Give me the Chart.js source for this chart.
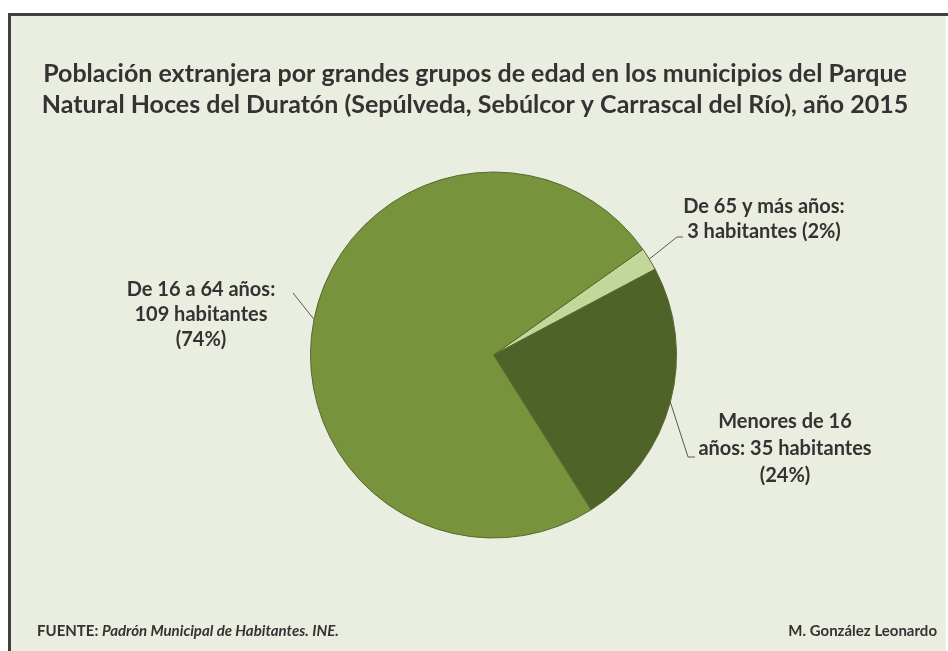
<!DOCTYPE html>
<html lang="es">
<head>
<meta charset="utf-8">
<script src="https://cdn.jsdelivr.net/npm/chart.js@4.4.1/dist/chart.umd.min.js"></script>
<style>
  html, body { margin: 0; padding: 0; background: #ffffff; }
  #wrap { position: relative; width: 948px; height: 651px; }
</style>
</head>
<body>
<div id="wrap"><canvas id="chart" width="948" height="651"></canvas></div>
<script>
// Datos
const categories = ['De 65 y más años', 'Menores de 16 años', 'De 16 a 64 años'];
const habitantes = [3, 35, 109];
const porcentajes = [2, 24, 74];
const colores = ['#c4d79b', '#4f6228', '#77933c'];

const titleLines = [
  'Población extranjera por grandes grupos de edad en los municipios del Parque',
  'Natural Hoces del Duratón (Sepúlveda, Sebúlcor y Carrascal del Río), año 2015'
];

// texto de las etiquetas (saltos de línea como en el original)
const labelLines = [
  [categories[0] + ':', `${habitantes[0]} habitantes (${porcentajes[0]}%)`],
  ['Menores de 16', `años: ${habitantes[1]} habitantes`, `(${porcentajes[1]}%)`],
  [categories[2] + ':', `${habitantes[2]} habitantes`, `(${porcentajes[2]}%)`]
];

// posición de cada etiqueta y su línea guía
const labelLayout = [
  { x: 764, y: 207, lh: 25, elbow: [677, 237], end: [683, 237] },
  { x: 785, y: 422, lh: 27, elbow: [688, 457], end: [695, 457] },
  { x: 201, y: 290, lh: 25, elbow: [293, 293], end: [293, 293] }
];

const FONT = 'Lato, "Open Sans", sans-serif';
const TEXT = '#333333';

const framePlugin = {
  id: 'frame',
  beforeDraw(chart) {
    const ctx = chart.ctx;
    ctx.save();
    ctx.fillStyle = '#ffffff';
    ctx.fillRect(0, 0, chart.width, chart.height);
    ctx.fillStyle = '#eaeee0';
    ctx.fillRect(8, 13, 938, 638);
    ctx.fillStyle = '#404040';
    ctx.fillRect(8, 13, 940, 3);
    ctx.fillRect(8, 13, 3, 638);
    ctx.restore();
  },
  afterDraw(chart) {
    const ctx = chart.ctx;
    ctx.save();
    ctx.fillStyle = TEXT;
    ctx.textAlign = 'center';
    ctx.textBaseline = 'middle';
    ctx.font = `bold 25px ${FONT}`;
    titleLines.forEach((t, i) => ctx.fillText(t, 475, 74 + i * 31));

    // etiquetas
    const meta = chart.getDatasetMeta(0);
    ctx.font = `bold 20px ${FONT}`;
    meta.data.forEach((arc, i) => {
      const p = arc.getProps(['x', 'y', 'startAngle', 'endAngle', 'outerRadius'], true);
      const mid = (p.startAngle + p.endAngle) / 2;
      const ax = p.x + Math.cos(mid) * p.outerRadius;
      const ay = p.y + Math.sin(mid) * p.outerRadius;
      const L = labelLayout[i];
      ctx.strokeStyle = '#595959';
      ctx.lineWidth = 1;
      ctx.beginPath();
      ctx.moveTo(ax, ay);
      ctx.lineTo(L.elbow[0], L.elbow[1]);
      ctx.lineTo(L.end[0], L.end[1]);
      ctx.stroke();
      labelLines[i].forEach((t, j) => ctx.fillText(t, L.x, L.y + j * L.lh));
    });

    // pie de gráfico
    ctx.textAlign = 'left';
    ctx.font = `bold 15px ${FONT}`;
    ctx.fillText('FUENTE:', 37, 631);
    const w = ctx.measureText('FUENTE: ').width;
    ctx.font = `italic bold 15px ${FONT}`;
    ctx.fillText('Padrón Municipal de Habitantes. INE.', 37 + w, 631);
    ctx.font = `bold 15px ${FONT}`;
    ctx.textAlign = 'right';
    ctx.fillText('M. González Leonardo', 937, 631);
    ctx.restore();
  }
};

new Chart(document.getElementById('chart'), {
  type: 'pie',
  data: {
    labels: categories,
    datasets: [{
      data: habitantes,
      backgroundColor: colores,
      borderColor: '#56692e',
      borderWidth: 1
    }]
  },
  options: {
    responsive: false,
    animation: false,
    rotation: 54.7,
    radius: 183,
    layout: { padding: { left: 39, right: 0, top: 59, bottom: 0 } },
    plugins: {
      legend: { display: false },
      tooltip: { enabled: false },
      title: { display: false }
    }
  },
  plugins: [framePlugin]
});
</script>
</body>
</html>
